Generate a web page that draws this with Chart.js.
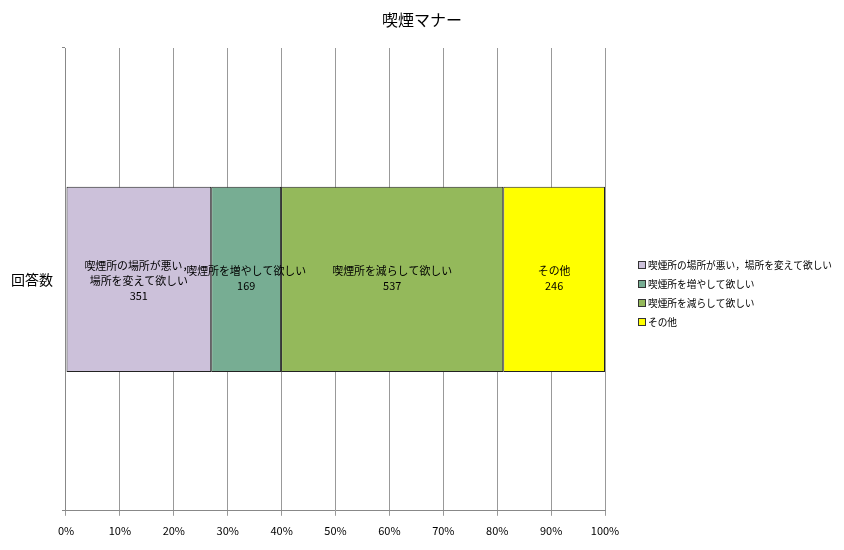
<!DOCTYPE html>
<html>
<head>
<meta charset="utf-8">
<script src="https://cdn.jsdelivr.net/npm/chart.js@4"></script>
<style>
  body { margin: 0; background: #fff; }
  #wrap { width: 844px; height: 550px; }
</style>
</head>
<body>
<div id="wrap"><canvas id="manner"></canvas></div>
<script>
// data
var chartTitle = '喫煙マナー';
var categories = ['回答数'];
var seriesNames = ['喫煙所の場所が悪い，場所を変えて欲しい', '喫煙所を増やして欲しい', '喫煙所を減らして欲しい', 'その他'];
var counts = [351, 169, 537, 246];
var colors = ['#CCC1DA', '#77AD93', '#94B95B', '#FFFF00'];
var tickLabels = ['0%', '10%', '20%', '30%', '40%', '50%', '60%', '70%', '80%', '90%', '100%'];

var total = counts.reduce(function(a, b) { return a + b; }, 0);
var font = '"Noto Sans CJK JP", "Noto Sans", sans-serif';

// labels inside each block: name (broken after the comma) + count
var inLabels = {
  id: 'inLabels',
  afterDatasetsDraw: function(chart) {
    var ctx = chart.ctx;
    ctx.save();
    ctx.font = '10.9px ' + font;
    ctx.fillStyle = '#000';
    ctx.textAlign = 'center';
    ctx.textBaseline = 'middle';
    chart.data.datasets.forEach(function(ds, i) {
      var bar = chart.getDatasetMeta(i).data[0];
      var cx = (bar.x + bar.base) / 2;
      var lines = ds.label.split(/(?<=，)/);
      lines.push(String(counts[i]));
      var lh = 15;
      var y0 = bar.y - (lines.length - 1) * lh / 2 + (lines.length > 2 ? 1 : -1);
      lines.forEach(function(t, k) {
        ctx.fillText(t, cx, y0 + k * lh);
      });
    });
    ctx.restore();
  }
};

// title centred on the whole canvas, legend in the space kept free on the right
var sideParts = {
  id: 'sideParts',
  afterDraw: function(chart) {
    var ctx = chart.ctx;
    ctx.save();
    ctx.fillStyle = '#000';
    ctx.font = '16px ' + font;
    ctx.textAlign = 'center';
    ctx.textBaseline = 'middle';
    ctx.fillText(chartTitle, chart.width / 2, 20);

    var x = chart.chartArea.right + 33;
    var y = 265;
    ctx.font = '9.7px ' + font;
    ctx.textAlign = 'left';
    chart.data.datasets.forEach(function(ds, i) {
      var yy = y + i * 19;
      ctx.fillStyle = ds.backgroundColor;
      ctx.fillRect(x, yy - 3.5, 7, 7);
      ctx.strokeStyle = '#333';
      ctx.lineWidth = 1;
      ctx.strokeRect(x + 0.5, yy - 3.5, 7, 7);
      ctx.fillStyle = '#000';
      ctx.fillText(ds.label, x + 10, yy);
    });
    ctx.restore();
  }
};

var ctx = document.getElementById('manner').getContext('2d');
var mannerChart = new Chart(ctx, {
  type: 'bar',
  data: {
    labels: categories,
    datasets: seriesNames.map(function(name, i) {
      return {
        label: name,
        data: [counts[i] / total * 100],
        backgroundColor: colors[i],
        borderColor: '#222',
        borderWidth: 1,
        borderSkipped: false,
        barPercentage: 0.4,
        categoryPercentage: 1
      };
    })
  },
  options: {
    indexAxis: 'y',
    responsive: true,
    maintainAspectRatio: false,
    animation: false,
    layout: { padding: { left: 2, right: 239, top: 48, bottom: 5 } },
    scales: {
      x: {
        stacked: true,
        min: 0,
        max: 100,
        ticks: {
          stepSize: 10,
          color: '#000',
          padding: 8,
          font: { family: font, size: 11 },
          callback: function(v, idx) { return tickLabels[idx]; }
        },
        grid: { color: '#999', tickLength: 5 },
        border: { color: '#888' }
      },
      y: {
        stacked: true,
        ticks: { color: '#000', padding: 9, font: { family: font, size: 14 } },
        grid: { drawOnChartArea: false, color: '#888', tickLength: 4 },
        border: { color: '#888' }
      }
    },
    plugins: {
      title: { display: false },
      legend: { display: false },
      tooltip: { enabled: false }
    }
  },
  plugins: [inLabels, sideParts]
});
</script>
</body>
</html>
